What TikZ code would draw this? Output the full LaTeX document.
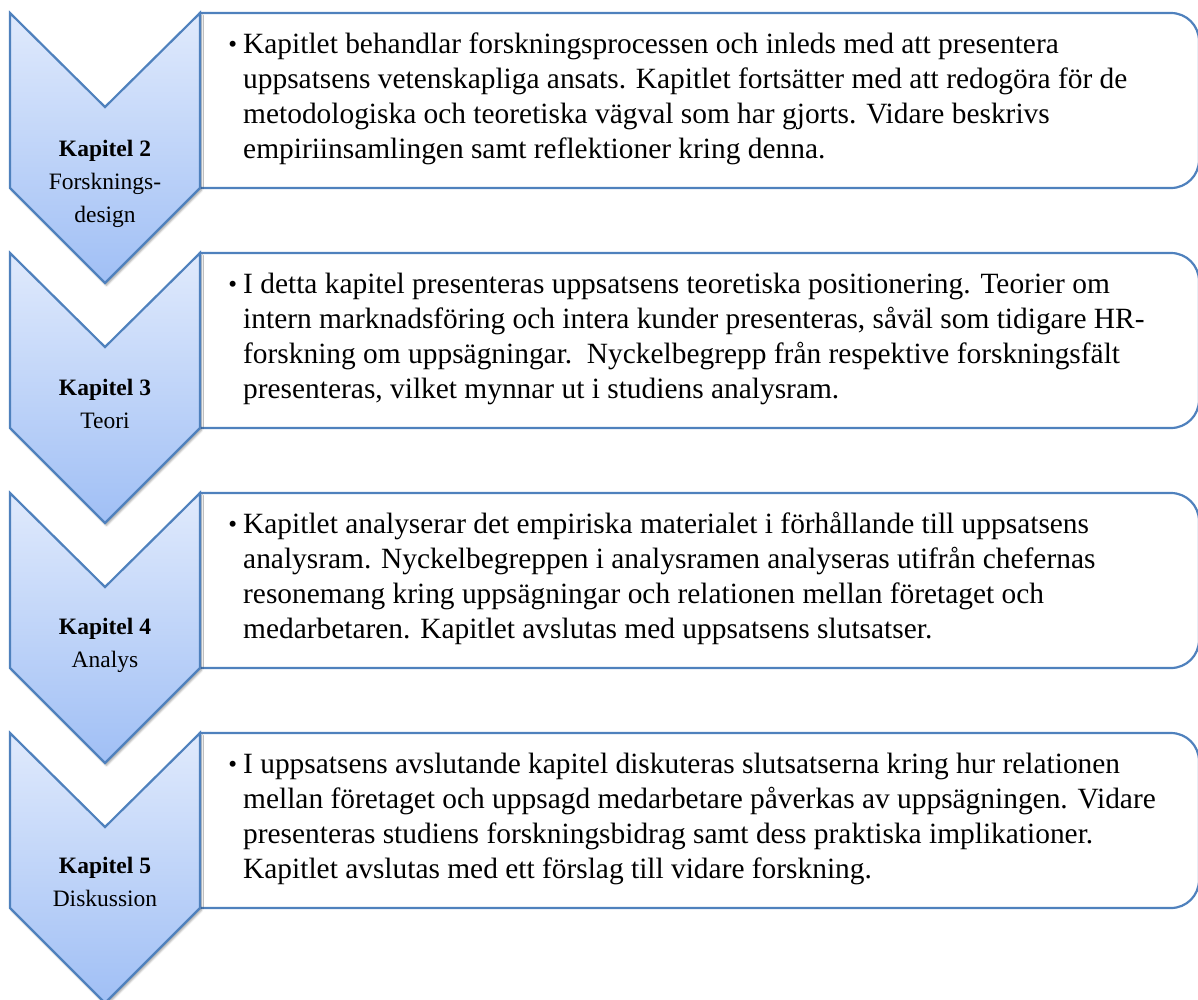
\documentclass[tikz,border=0pt]{standalone}
\usepackage{fontspec}
\usepackage{graphicx}
\setmainfont{Liberation Serif}
\usetikzlibrary{shadows.blur}

\definecolor{edgeblue}{RGB}{79,129,189}
\definecolor{chevtop}{RGB}{224,234,252}
\definecolor{chevbot}{RGB}{160,191,245}

\tikzset{
  chevron/.style={draw=edgeblue, line width=2.2pt, line join=miter,
    top color=chevtop, bottom color=chevbot,
    blur shadow={shadow xshift=1.5pt, shadow yshift=-2.5pt,
                 shadow blur steps=6, shadow opacity=35}},
  panel/.style={draw=edgeblue, line width=2.2pt, fill=white},
  body/.style={anchor=north west, inner sep=0pt, align=left,
    font=\fontsize{29.4}{35}\selectfont},
  chaptag/.style={anchor=north, inner sep=0pt, align=center,
    font=\fontsize{23.5}{33}\selectfont},
}
% bullet hanging to the left of the first line
\newcommand\itembullet{\llap{\raisebox{1pt}{\scalebox{0.85}{\textbullet}}\hspace{6pt}}}
\newcommand\firststrut{\rule{0pt}{22pt}}
\newcommand\tagstrut{\rule{0pt}{18pt}}

\begin{document}
\begin{tikzpicture}[x=1pt, y=-1pt]
  \useasboundingbox (0,0) rectangle (1198,999);

  % text panels (square left side, rounded right side), then the chevrons on top
  \foreach \t in {13,253,493,733} {
    \draw[panel] (200,\t) -- (1171,\t)
      arc[start angle=-90, end angle=0, radius=28]
      -- (1199,\t+147)
      arc[start angle=0, end angle=90, radius=28]
      -- (200,\t+175) -- cycle;
  }
  \foreach \t in {13,253,493,733} {
    \draw[chevron] (10,\t) -- (105,\t+94) -- (200,\t) -- (200,\t+175)
      -- (105,\t+270) -- (10,\t+175) -- cycle;
  }

  % chapter tags
  \node[chaptag] (k2) at (105,13+143-18)
    {\tagstrut\textbf{Kapitel 2}\\Forsknings-\\design};
  \node[chaptag] (k3) at (105,253+142-18)
    {\tagstrut\textbf{Kapitel 3}\\Teori};
  \node[chaptag] (k4) at (105,493+141-18)
    {\tagstrut\textbf{Kapitel 4}\\Analys};
  \node[chaptag] (k5) at (105,733+140-18)
    {\tagstrut\textbf{Kapitel 5}\\Diskussion};

  % chapter descriptions
  \node[body] (d2) at (243,13+18)
    {\itembullet\firststrut Kapitlet behandlar forskningsprocessen och inleds med att presentera\\
     uppsatsens vetenskapliga ansats. Kapitlet fortsätter med att redogöra för de\\
     metodologiska och teoretiska vägval som har gjorts. Vidare beskrivs\\
     empiriinsamlingen samt reflektioner kring denna.};
  \node[body] (d3) at (243,253+18)
    {\itembullet\firststrut I detta kapitel presenteras uppsatsens teoretiska positionering. Teorier om\\
     intern marknadsföring och intera kunder presenteras, såväl som tidigare HR-\\
     forskning om uppsägningar.\ \ Nyckelbegrepp från respektive forskningsfält\\
     presenteras, vilket mynnar ut i studiens analysram.};
  \node[body] (d4) at (243,493+18)
    {\itembullet\firststrut Kapitlet analyserar det empiriska materialet i förhållande till uppsatsens\\
     analysram. Nyckelbegreppen i analysramen analyseras utifrån chefernas\\
     resonemang kring uppsägningar och relationen mellan företaget och\\
     medarbetaren. Kapitlet avslutas med uppsatsens slutsatser.};
  \node[body] (d5) at (243,733+18)
    {\itembullet\firststrut I uppsatsens avslutande kapitel diskuteras slutsatserna kring hur relationen\\
     mellan företaget och uppsagd medarbetare påverkas av uppsägningen. Vidare\\
     presenteras studiens forskningsbidrag samt dess praktiska implikationer.\\
     Kapitlet avslutas med ett förslag till vidare forskning.};
\end{tikzpicture}
\end{document}
